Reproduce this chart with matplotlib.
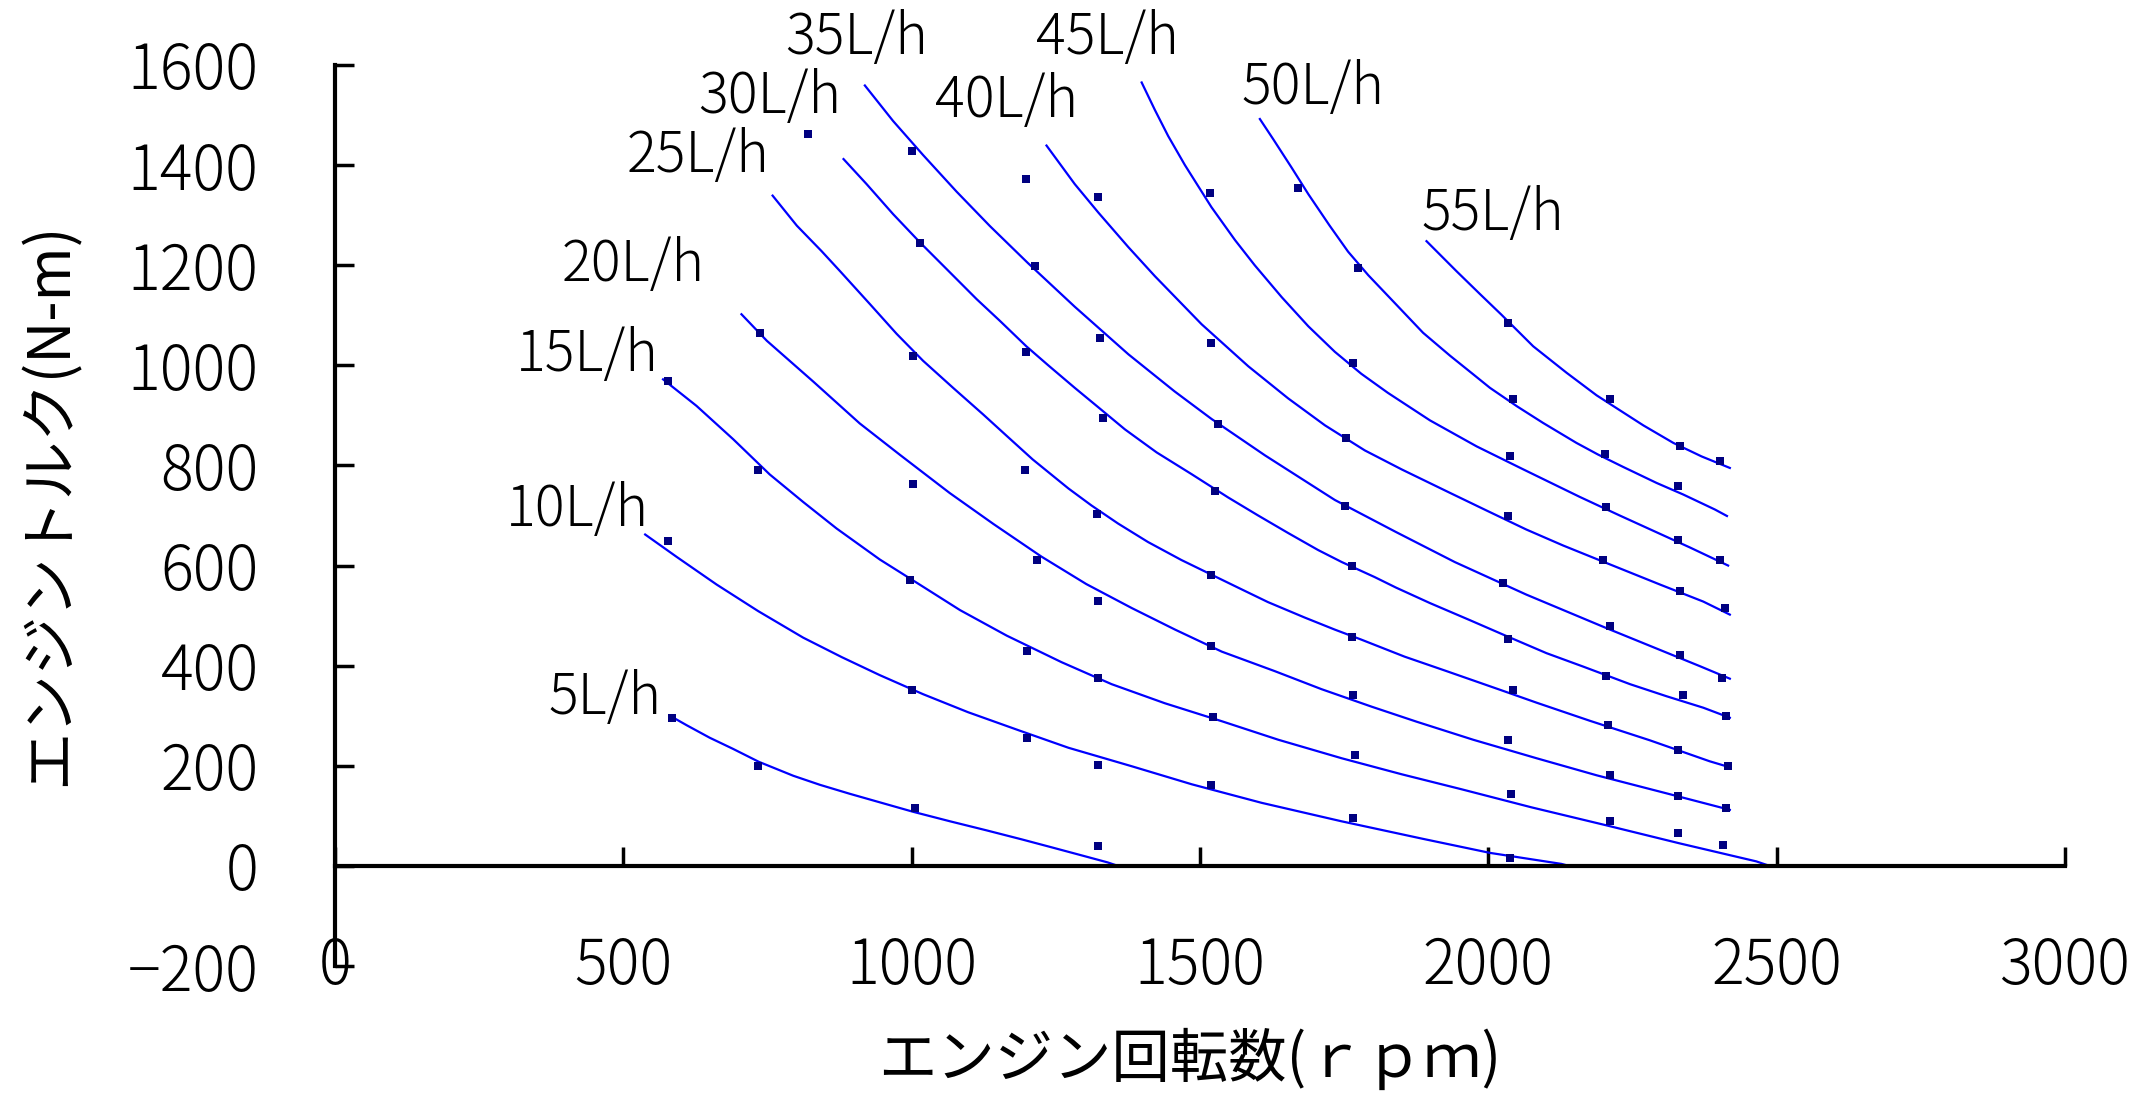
import matplotlib
matplotlib.use('Agg')
import matplotlib.pyplot as plt

plt.rcParams['font.family'] = ['Noto Sans CJK JP', 'DejaVu Sans']
plt.rcParams['font.weight'] = 'light'

# fuel consumption (L/h) -> curve labels
rates = ['5L/h', '10L/h', '15L/h', '20L/h', '25L/h', '30L/h',
         '35L/h', '40L/h', '45L/h', '50L/h', '55L/h']

# fitted iso-fuel lines (rpm, N-m)
rpm_5 = [584, 610, 650, 690, 735, 795, 841, 893, 951, 1003, 1067, 1130, 1191, 1240, 1295, 1340, 1358]
trq_5 = [298, 281, 256, 234, 208, 180, 162, 144, 125, 108, 89, 71, 53, 38, 21, 7, 0]

rpm_10 = [538, 593, 662, 734, 812, 879, 945, 1020, 1098, 1188, 1272, 1382, 1486, 1607, 1746, 1887, 2003, 2127, 2140]
trq_10 = [662, 617, 562, 509, 456, 417, 381, 343, 307, 270, 236, 199, 163, 126, 89, 54, 26, 4, 0]

rpm_15 = [569, 627, 691, 754, 812, 870, 945, 1014, 1084, 1165, 1260, 1347, 1439, 1538, 1636, 1746, 1850, 1954, 2075, 2205, 2332, 2465, 2488]
trq_15 = [972, 919, 852, 782, 727, 674, 612, 562, 511, 460, 407, 363, 325, 289, 252, 215, 183, 153, 117, 81, 45, 9, 0]

rpm_20 = [705, 749, 830, 910, 980, 1066, 1142, 1225, 1303, 1382, 1457, 1538, 1630, 1711, 1798, 1876, 1974, 2084, 2188, 2309, 2419]
trq_20 = [1102, 1049, 967, 884, 821, 745, 683, 618, 563, 515, 472, 428, 389, 353, 318, 288, 252, 215, 181, 145, 112]

rpm_25 = [759, 801, 844, 876, 928, 974, 1020, 1072, 1124, 1165, 1210, 1272, 1312, 1358, 1410, 1468, 1566, 1618, 1682, 1734, 1780, 1855, 1928, 2020, 2084, 2176, 2280, 2384, 2416]
trq_25 = [1339, 1279, 1228, 1188, 1122, 1063, 1009, 955, 902, 859, 812, 754, 720, 684, 647, 611, 556, 527, 496, 472, 452, 418, 389, 352, 326, 290, 251, 209, 198]

rpm_30 = [882, 922, 968, 1015, 1061, 1113, 1153, 1199, 1237, 1283, 1324, 1370, 1425, 1485, 1549, 1601, 1653, 1705, 1746, 1803, 1840, 1899, 1968, 2026, 2101, 2165, 2246, 2309, 2373, 2419]
trq_30 = [1412, 1362, 1302, 1245, 1192, 1132, 1089, 1038, 1000, 955, 916, 872, 826, 783, 736, 700, 665, 631, 607, 577, 556, 525, 491, 462, 425, 398, 363, 339, 316, 296]

rpm_35 = [919, 968, 1020, 1078, 1136, 1202, 1283, 1376, 1456, 1520, 1613, 1734, 1840, 1942, 2066, 2205, 2367, 2419]
trq_35 = [1559, 1488, 1420, 1347, 1278, 1204, 1117, 1022, 948, 893, 820, 731, 667, 607, 542, 475, 399, 374]

rpm_40 = [1234, 1283, 1324, 1376, 1422, 1503, 1584, 1653, 1717, 1786, 1850, 1934, 1997, 2066, 2130, 2188, 2298, 2373, 2419]
trq_40 = [1439, 1362, 1305, 1236, 1178, 1082, 998, 934, 880, 830, 792, 745, 710, 672, 640, 613, 562, 528, 502]

rpm_45 = [1399, 1422, 1445, 1474, 1520, 1561, 1595, 1642, 1688, 1734, 1780, 1826, 1899, 1980, 2061, 2159, 2228, 2350, 2416]
trq_45 = [1565, 1510, 1458, 1400, 1316, 1250, 1200, 1136, 1078, 1027, 983, 945, 890, 838, 792, 737, 700, 636, 600]

rpm_50 = [1604, 1627, 1659, 1688, 1725, 1757, 1792, 1835, 1887, 1934, 1974, 2003, 2050, 2095, 2153, 2190, 2234, 2292, 2338, 2393, 2414]
trq_50 = [1492, 1452, 1395, 1342, 1279, 1227, 1180, 1128, 1065, 1019, 982, 955, 918, 885, 845, 822, 797, 765, 742, 712, 699]

rpm_55 = [1893, 1945, 1986, 2023, 2078, 2136, 2188, 2269, 2321, 2370, 2419]
trq_55 = [1248, 1188, 1142, 1101, 1038, 985, 940, 880, 845, 818, 795]

# measured points (small squares)
pt_rpm_5 = [584, 734, 1006, 1324]
pt_trq_5 = [295, 199, 115, 39]
pt_rpm_10 = [578, 1001, 1200, 1323, 1520, 1766, 2037]
pt_trq_10 = [650, 352, 255, 202, 162, 95, 15]
pt_rpm_15 = [578, 734, 997, 1200, 1324, 1523, 1769, 2040, 2211, 2329, 2407]
pt_trq_15 = [969, 790, 572, 429, 375, 297, 222, 143, 89, 65, 42]
pt_rpm_20 = [737, 1003, 1217, 1324, 1520, 1766, 2035, 2211, 2329, 2413]
pt_trq_20 = [1065, 763, 612, 529, 439, 342, 252, 182, 139, 115]
pt_rpm_25 = [1003, 1197, 1321, 1520, 1763, 2043, 2208, 2329, 2416]
pt_trq_25 = [1019, 790, 702, 581, 457, 352, 281, 231, 199]
pt_rpm_30 = [821, 1015, 1199, 1332, 1526, 1763, 2035, 2205, 2338, 2413]
pt_trq_30 = [1463, 1245, 1027, 895, 749, 599, 454, 379, 342, 299]
pt_rpm_35 = [1000, 1214, 1327, 1532, 1751, 2026, 2211, 2332, 2405]
pt_trq_35 = [1429, 1199, 1055, 882, 719, 565, 479, 422, 375]
pt_rpm_40 = [1199, 1324, 1520, 1754, 2035, 2199, 2332, 2410]
pt_trq_40 = [1373, 1337, 1045, 855, 699, 612, 549, 515]
pt_rpm_45 = [1517, 1766, 2038, 2205, 2329, 2402]
pt_trq_45 = [1345, 1005, 819, 717, 652, 612]
pt_rpm_50 = [1670, 1775, 2043, 2202, 2329]
pt_trq_50 = [1354, 1195, 932, 822, 759]
pt_rpm_55 = [2035, 2211, 2332, 2402]
pt_trq_55 = [1085, 932, 839, 809]

x_ticks = [0, 500, 1000, 1500, 2000, 2500, 3000]
y_ticks = [-200, 0, 200, 400, 600, 800, 1000, 1200, 1400, 1600]

lines = [(rpm_5, trq_5), (rpm_10, trq_10), (rpm_15, trq_15), (rpm_20, trq_20),
         (rpm_25, trq_25), (rpm_30, trq_30), (rpm_35, trq_35), (rpm_40, trq_40),
         (rpm_45, trq_45), (rpm_50, trq_50), (rpm_55, trq_55)]
points = [(pt_rpm_5, pt_trq_5), (pt_rpm_10, pt_trq_10), (pt_rpm_15, pt_trq_15),
          (pt_rpm_20, pt_trq_20), (pt_rpm_25, pt_trq_25), (pt_rpm_30, pt_trq_30),
          (pt_rpm_35, pt_trq_35), (pt_rpm_40, pt_trq_40), (pt_rpm_45, pt_trq_45),
          (pt_rpm_50, pt_trq_50), (pt_rpm_55, pt_trq_55)]

# where each curve label sits (data coords)
label_pos = [(468, 336), (421, 712), (437, 1022), (518, 1200), (629, 1418),
             (754, 1536), (905, 1654), (1165, 1528), (1340, 1654), (1696, 1554),
             (2008, 1302)]

fig = plt.figure(figsize=(21.36, 11.01), dpi=100)
ax = fig.add_axes([0.1568, 0.1226, 0.8099, 0.8184])

for xs, ys in lines:
    ax.plot(xs, ys, color='#0000ff', linewidth=1.6, solid_joinstyle='round')
for xs, ys in points:
    ax.plot(xs, ys, linestyle='none', marker='s', markersize=5.5,
            color='#000080', markeredgewidth=0)
for name, (lx, ly) in zip(rates, label_pos):
    ax.text(lx, ly, name, fontsize=40, ha='center', va='center', clip_on=False)

ax.set_xlim(0, 3000)
ax.set_ylim(-200, 1600)

for side in ['top', 'right']:
    ax.spines[side].set_visible(False)
ax.spines['bottom'].set_position(('data', 0))
for side in ['left', 'bottom']:
    ax.spines[side].set_linewidth(3)

ax.set_xticks(x_ticks)
ax.set_yticks(y_ticks)
ax.tick_params(axis='x', direction='in', length=14, width=2.5, labelbottom=False)
ax.tick_params(axis='y', direction='in', length=14, width=2.5, labelsize=44, pad=55)

# x tick labels sit at the bottom of the frame, not on the zero line
sec = ax.secondary_xaxis('bottom')
sec.set_xticks(x_ticks)
sec.tick_params(length=0, labelsize=44, pad=-22)
sec.spines['bottom'].set_visible(False)

ax.set_xlabel('エンジン回転数(ｒｐｍ)', fontsize=42, va='center')
ax.xaxis.set_label_coords(0.494, -0.104)
ax.set_ylabel('エンジントルク(N-m)', fontsize=42, va='center')
ax.yaxis.set_label_coords(-0.165, 0.513)

fig.savefig('out.png', dpi=100)
